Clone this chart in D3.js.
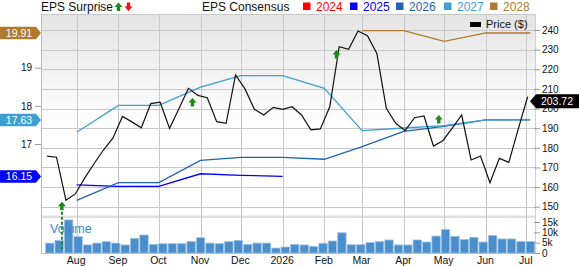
<!DOCTYPE html>
<html>
<head>
<meta charset="utf-8">
<script src="https://cdn.jsdelivr.net/npm/d3@7/dist/d3.min.js"></script>
<style>
  body { margin: 0; background: #fff; }
  svg text { font-family: "Liberation Sans", Arial, sans-serif; }
</style>
</head>
<body>
<div id="chart"></div>
<script>
// weekly closing price, first week starts 2025-07-10
const priceStart = "2025-07-10";
const prices = [175.8, 175.2, 153.3, 156.5, 164.7, 172.0, 179.0, 185.0, 196.0, 193.2,
  190.2, 202.5, 203.2, 189.9, 200.0, 210.3, 206.7, 205.5, 193.3, 192.5,
  217.1, 210.0, 199.6, 196.7, 200.6, 199.6, 200.9, 196.7, 189.1, 189.6,
  200.9, 231.5, 230.2, 239.5, 237.1, 228.1, 200.1, 192.5, 188.7, 195.3,
  196.2, 180.9, 183.6, 190.0, 196.7, 173.8, 175.8, 162.2, 174.6, 172.6,
  189.5, 206.0];
const lastPrice = "203.72";

// weekly volume (thousands), first bar centred on 2025-07-12
const volStart = "2025-07-12";
const volumes = [4.8, 6.1, 16.0, 7.9, 3.9, 4.8, 5.5, 4.8, 3.9, 7.1,
  8.7, 4.2, 4.5, 4.5, 4.5, 5.5, 7.4, 4.8, 4.5, 5.5,
  6.1, 4.2, 4.8, 4.8, 2.4, 2.9, 4.2, 3.9, 3.2, 4.7,
  5.8, 9.8, 4.0, 4.0, 5.0, 5.5, 6.3, 3.9, 3.9, 6.3,
  5.3, 8.2, 11.4, 8.1, 6.6, 7.6, 5.3, 8.5, 6.8, 6.8,
  5.5, 5.6];

// EPS consensus, one value per month
const epsDates = ["2025-08-01", "2025-09-01", "2025-10-01", "2025-11-01", "2025-12-01", "2026-01-01",
  "2026-02-01", "2026-03-01", "2026-04-01", "2026-05-01", "2026-06-01", "2026-07-04"];
const eps2024 = [];
const eps2025 = [15.93, 15.89, 15.89, 16.22, 16.18, 16.15];
const eps2026 = [15.52, 15.99, 15.99, 16.57, 16.65, 16.65, 16.60, 16.93, 17.33, 17.46, 17.63, 17.63];
const eps2027 = [17.31, 18.01, 18.01, 18.49, 18.79, 18.79, 18.46, 17.35, 17.42, 17.48, 17.63, 17.63];
const eps2028 = [null, null, null, null, null, null, null, 19.97, 19.97, 19.69, 19.91, 19.91];

const years = ["2024", "2025", "2026", "2027", "2028"];
const yearColors = ["#ff0000", "#0000ff", "#1f63b4", "#3ea0d0", "#b07b2e"];
const epsSeries = [eps2024, eps2025, eps2026, eps2027, eps2028];

// EPS surprise markers (date, price level of arrow tip)
const surpriseDates = ["2025-07-21", "2025-10-26", "2026-02-10", "2026-04-27"];
const surpriseLevels = [152.5, 205.4, 229.8, 196.7];

const priceTicks = [150, 160, 170, 180, 190, 200, 210, 220, 230, 240];
const volTicks = [0, 5, 10, 15];
const epsTicks = [17, 18, 19];

const width = 579, height = 266;
const plotL = 41, plotR = 536, plotT = 14, plotB = 253;

const svg = d3.select('#chart').append('svg')
  .attr('width', width)
  .attr('height', height);

const parse = d3.utcParse('%Y-%m-%d');

const x = d3.scaleUtc()
  .domain([parse('2025-08-01'), parse('2026-07-01')])
  .range([76.7, 526.3]);
const yPrice = d3.scaleLinear().domain([150, 240]).range([206.7, 30]);
const yEps = d3.scaleLinear().domain([17, 19]).range([144, 67.7]);
const yVol = d3.scaleLinear().domain([0, 15]).range([plotB, 222]);

// background
const defs = svg.append('defs');
const grad = defs.append('linearGradient').attr('id', 'bg').attr('x1', 0).attr('x2', 0).attr('y1', 0).attr('y2', 1);
grad.append('stop').attr('offset', '0%').attr('stop-color', '#e4e4e4');
grad.append('stop').attr('offset', '55%').attr('stop-color', '#ffffff');
svg.append('rect').attr('x', plotL).attr('y', plotT).attr('width', plotR - plotL).attr('height', 202)
  .attr('fill', 'url(#bg)');
svg.append('rect').attr('x', plotL).attr('y', 215.5).attr('width', plotR - plotL).attr('height', 2.5)
  .attr('fill', '#e0e0e0');

// grid
const gridColor = '#c9c9c9';
svg.append('g').selectAll('line').data(priceTicks.concat([248.1]))
  .join('line')
  .attr('x1', plotL).attr('x2', plotR)
  .attr('y1', d => Math.round(yPrice(d)) + 0.5).attr('y2', d => Math.round(yPrice(d)) + 0.5)
  .attr('stroke', gridColor);

const months = d3.utcMonth.range(parse('2025-08-01'), parse('2026-07-02'));
svg.append('g').selectAll('line').data(months)
  .join('line')
  .attr('x1', d => Math.round(x(d)) + 0.5).attr('x2', d => Math.round(x(d)) + 0.5)
  .attr('y1', plotT).attr('y2', plotB)
  .attr('stroke', gridColor);

svg.append('line').attr('x1', plotL + 0.5).attr('x2', plotL + 0.5).attr('y1', plotT).attr('y2', plotB)
  .attr('stroke', '#bdbdbd');
svg.append('line').attr('x1', plotR - 0.5).attr('x2', plotR - 0.5).attr('y1', plotT).attr('y2', plotB)
  .attr('stroke', '#d0d0d0');
svg.append('line').attr('x1', plotL).attr('x2', plotR).attr('y1', plotB + 0.5).attr('y2', plotB + 0.5)
  .attr('stroke', '#bdbdbd');

// volume
const vStart = parse(volStart);
svg.append('g').selectAll('rect').data(volumes)
  .join('rect')
  .attr('x', (d, i) => x(d3.utcDay.offset(vStart, 7 * i)) - 4.2)
  .attr('width', 8.4)
  .attr('y', d => yVol(d))
  .attr('height', d => plotB - yVol(d))
  .attr('fill', '#4a8ecb')
  .attr('stroke', '#9ec4e6')
  .attr('stroke-width', 0.8);

svg.append('text').attr('x', 50).attr('y', 233).text('Volume')
  .attr('fill', '#3a88c8').attr('font-size', 12.5);

// EPS consensus lines
const eDates = epsDates.map(parse);
epsSeries.forEach((vals, k) => {
  const pts = vals.map((v, i) => [eDates[i], v]).filter(p => p[1] != null);
  if (!pts.length) return;
  svg.append('path')
    .datum(pts)
    .attr('d', d3.line().x(p => x(p[0])).y(p => yEps(p[1])))
    .attr('fill', 'none')
    .attr('stroke', yearColors[k])
    .attr('stroke-width', 1.3);
});

// price line
const pStart = parse(priceStart);
svg.append('path')
  .datum(prices)
  .attr('d', d3.line().x((d, i) => x(d3.utcDay.offset(pStart, 7 * i))).y(d => yPrice(d)))
  .attr('fill', 'none')
  .attr('stroke', '#111')
  .attr('stroke-width', 1.2);

// surprise arrows
function upArrow(g, cx, ty, color) {
  g.append('path')
    .attr('d', `M${cx},${ty} l4,4.5 h-2.3 v4 h-3.4 v-4 h-2.3 z`)
    .attr('fill', color);
}
surpriseDates.forEach((d, i) => {
  const cx = x(parse(d));
  const ty = yPrice(surpriseLevels[i]);
  if (i === 0) {
    svg.append('line').attr('x1', cx).attr('x2', cx).attr('y1', ty + 5).attr('y2', plotB - 4)
      .attr('stroke', '#1a8a1a').attr('stroke-width', 2).attr('stroke-dasharray', '3,2');
  }
  upArrow(svg, cx, ty, '#1a8a1a');
});

// axes
const fontSize = 10;
const priceAxis = d3.axisRight(yPrice).tickValues(priceTicks).tickSize(6).tickPadding(2);
const gP = svg.append('g').attr('transform', `translate(${plotR - 2},0)`).call(priceAxis);
const volAxis = d3.axisRight(yVol).tickValues(volTicks).tickSize(6).tickPadding(2)
  .tickFormat(d => d === 0 ? '0' : d + 'k');
const gV = svg.append('g').attr('transform', `translate(${plotR - 2},0)`).call(volAxis);
const epsAxis = d3.axisLeft(yEps).tickValues(epsTicks).tickSize(6).tickPadding(3).tickFormat(d3.format('d'));
const gE = svg.append('g').attr('transform', `translate(${plotL},0)`).call(epsAxis);
const fmtMonth = d => d.getUTCMonth() === 0 ? d3.utcFormat('%Y')(d) : d3.utcFormat('%b')(d);
const xAxis = d3.axisBottom(x).tickValues(months).tickSize(0).tickPadding(4).tickFormat(fmtMonth);
const gX = svg.append('g').attr('transform', `translate(-1,${plotB})`).call(xAxis);

[gP, gV, gE, gX].forEach(g => {
  g.select('.domain').remove();
  g.selectAll('line').attr('stroke', '#999');
  g.selectAll('text').attr('fill', '#111').attr('font-size', fontSize)
    .attr('font-family', '"Liberation Sans", Arial, sans-serif');
});
gX.selectAll('text').attr('font-size', 10.5);

// value tags on left axis
function leftTag(val, color) {
  const cy = yEps(val);
  svg.append('path')
    .attr('d', `M0,${cy - 6.3} H36 L41,${cy} L36,${cy + 6.3} H0 Z`)
    .attr('fill', color);
  svg.append('text').attr('x', 19).attr('y', cy + 3.8).attr('text-anchor', 'middle')
    .attr('fill', '#fff').attr('font-size', 10.5).text(d3.format('.2f')(val));
}
leftTag(eps2028[eps2028.length - 1], yearColors[4]);
leftTag(eps2027[eps2027.length - 1], yearColors[3]);
leftTag(eps2025[eps2025.length - 1], yearColors[1]);

// last price tag on right
const ly = yPrice(+lastPrice);
svg.append('path')
  .attr('d', `M530,${ly} L536,${ly - 7} H579 V${ly + 7} H536 Z`)
  .attr('fill', '#000');
svg.append('text').attr('x', 557).attr('y', ly + 4).attr('text-anchor', 'middle')
  .attr('fill', '#fff').attr('font-size', 10.5).text(lastPrice);

// top legends
svg.append('text').attr('x', 41).attr('y', 11).attr('font-size', 12).attr('fill', '#111').text('EPS Surprise');
upArrow(svg, 118.5, 2.5, '#1a8a1a');
svg.append('path').attr('d', 'M128.5,11 l4,-4.5 h-2.3 v-4 h-3.4 v4 h-2.3 z').attr('fill', '#ee1111');

svg.append('text').attr('x', 202).attr('y', 11).attr('font-size', 12).attr('fill', '#111').text('EPS Consensus');
const legX = [303, 350, 396, 444, 490];
years.forEach((yr, i) => {
  svg.append('rect').attr('x', legX[i]).attr('y', 2.5).attr('width', 7.5).attr('height', 7.5).attr('fill', yearColors[i]);
  svg.append('text').attr('x', legX[i] + 13).attr('y', 11).attr('font-size', 12).attr('fill', yearColors[i]).text(yr);
});

svg.append('rect').attr('x', 470).attr('y', 22).attr('width', 11).attr('height', 5).attr('fill', '#000');
svg.append('text').attr('x', 486).attr('y', 28).attr('font-size', 11).attr('fill', '#111').text('Price ($)');
</script>
</body>
</html>
